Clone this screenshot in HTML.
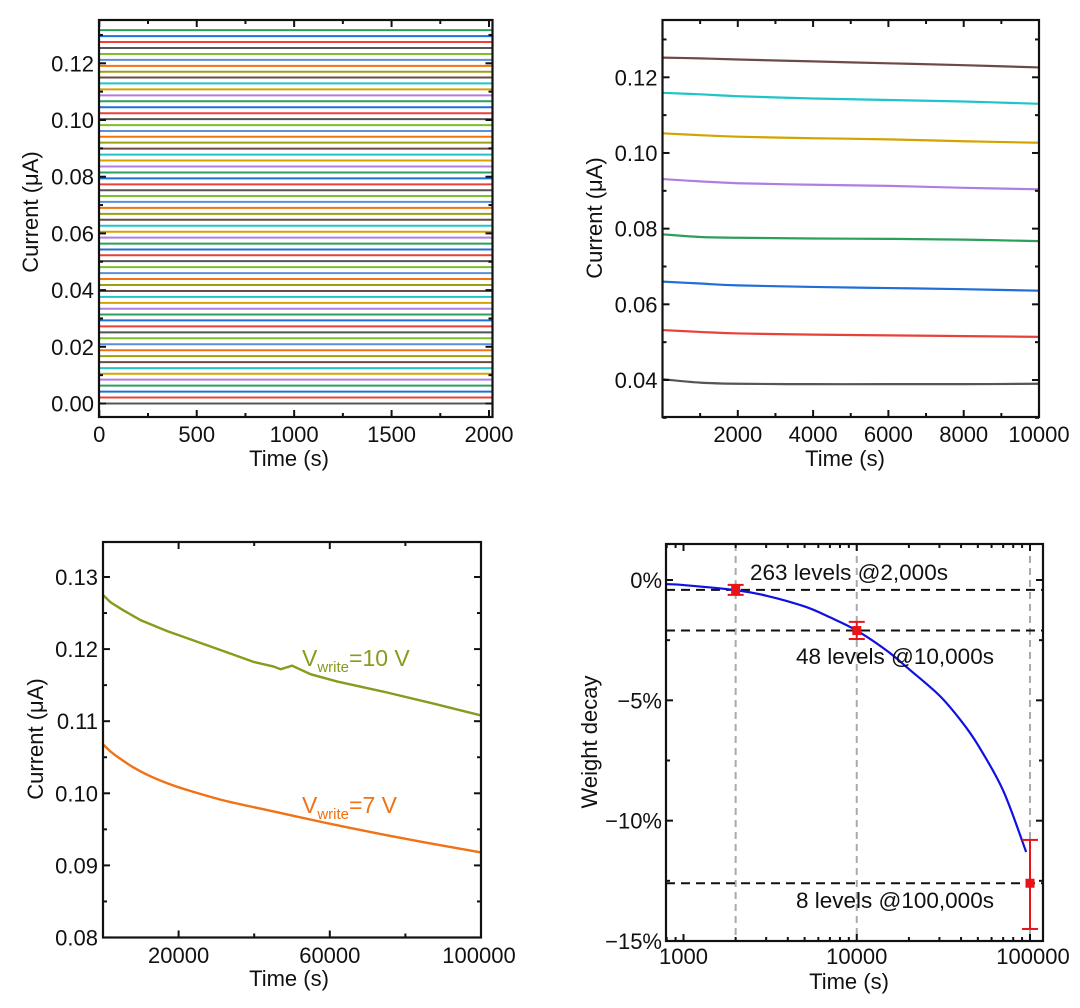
<!DOCTYPE html>
<html><head><meta charset="utf-8"><style>
html,body{margin:0;padding:0;background:#fff;}
svg{display:block;font-family:"Liberation Sans",Arial,sans-serif;}
</style></head><body>
<svg id="fig" width="1080" height="1008" viewBox="0 0 1080 1008"></svg>
<script>
// ---- Panel A data (top-left): 64 conductance levels ----
const levelsA = [0,.0021,.0042,.0063,.0084,.0105,.0125,.0146,.0167,.0188,.0209,.0230,.0251,.0272,.0293,.0314,.0334,.0355,.0376,.0397,.0418,.0439,.0460,.0481,.0502,.0523,.0543,.0564,.0585,.0606,.0627,.0648,.0669,.0690,.0711,.0732,.0752,.0773,.0794,.0815,.0836,.0857,.0878,.0899,.0920,.0941,.0961,.0982,.1003,.1024,.1045,.1066,.1087,.1108,.1129,.1150,.1170,.1191,.1212,.1233,.1254,.1275,.1296,.1317];
const xTicksA = [0,500,1000,1500,2000];
const yTicksA = [0,0.02,0.04,0.06,0.08,0.10,0.12];
const yTickLabelsA = ["0.00","0.02","0.04","0.06","0.08","0.10","0.12"];
const colorCycle = ["#555555","#e8413a","#1f6fd6","#2e9e5c","#b07ee0","#d4a300","#20c4c8","#6e4a46","#98a012","#f07410","#5c8fd4","#7cbf2c"];

// ---- Panel B data (top-right) ----
const timesB = [0,1000,2000,4000,6000,8000,10000];
const seriesB = [
 [.0402,.0393,.0390,.0389,.0389,.0389,.0390],
 [.0532,.0527,.0523,.0520,.0518,.0516,.0514],
 [.0660,.0655,.0650,.0646,.0643,.0640,.0636],
 [.0785,.0778,.0776,.0774,.0773,.0771,.0767],
 [.0931,.0925,.0920,.0916,.0913,.0908,.0904],
 [.1052,.1047,.1043,.1039,.1036,.1031,.1027],
 [.1159,.1155,.1150,.1144,.1140,.1136,.1130],
 [.1252,.1250,.1247,.1242,.1237,.1232,.1226]];
const colorsB = ["#555555","#e8413a","#1f6fd6","#2e9e5c","#b07ee0","#d4a300","#20c4c8","#6e4a46"];
const xTicksB = [2000,4000,6000,8000,10000];
const yTicksB = [0.04,0.06,0.08,0.10,0.12];
const yTickLabelsB = ["0.04","0.06","0.08","0.10","0.12"];

// ---- Panel C data (bottom-left) ----
const timesC10 = [0,2000,5000,10000,17000,25000,32000,40000,45000,47000,50000,55000,62000,75000,87000,100000];
const values10 = [.1275,.1265,.1255,.1240,.1225,.1210,.1197,.1182,.1176,.1172,.1177,.1165,.1155,.1140,.1125,.1108];
const timesC7 = [0,2000,4000,8000,12000,17000,22000,32000,45000,58000,72000,85000,100000];
const values7 = [.1068,.1058,.1050,.1036,.1025,.1014,.1005,.0990,.0975,.0960,.0945,.0932,.0918];
const xTicksC = [20000,60000,100000];
const yTicksC = [0.08,0.09,0.10,0.11,0.12,0.13];
const yTickLabelsC = ["0.08","0.09","0.10","0.11","0.12","0.13"];

// ---- Panel D data (bottom-right) ----
const fitTimes = [793,1000,2000,3000,5000,7000,10000,15000,20000,30000,40000,50000,70000,95000];
const fitValues = [-0.17,-0.21,-0.42,-0.65,-1.1,-1.55,-2.1,-2.95,-3.7,-4.8,-5.85,-6.85,-8.75,-11.3];
const ptTimes = [2000,10000,100000];
const ptValues = [-0.41,-2.1,-12.6];
const ptErrLow = [-0.62,-2.45,-14.5];
const ptErrHigh = [-0.2,-1.74,-10.8];
const levelLabels = ["263 levels @2,000s","48 levels @10,000s","8 levels @100,000s"];
const xTicksD = [1000,10000,100000];
const yTicksD = [0,-5,-10,-15];
const yTickLabelsD = ["0%","\u22125%","\u221210%","\u221215%"];

const NS="http://www.w3.org/2000/svg";
const svg=document.getElementById('fig');
const FS=22, TS=22;
function mk(tag,attrs,parent){const e=document.createElementNS(NS,tag);for(const k in attrs)e.setAttribute(k,attrs[k]);(parent||svg).appendChild(e);return e;}
function txt(s,x,y,anchor,size,parent,fill){const t=mk('text',{x:x,y:y,'text-anchor':anchor,'font-size':size,fill:fill||'#111'},parent);t.textContent=s;return t;}
function lin(d0,d1,r0,r1){return v=>r0+(v-d0)*(r1-r0)/(d1-d0);}
function pathFrom(xs,ys,sx,sy){return xs.map((t,i)=>(i?'L':'M')+sx(t).toFixed(2)+','+sy(ys[i]).toFixed(2)).join(' ');}
function smoothPath(xs,ys,sx,sy){const P=xs.map((t,i)=>[sx(t),sy(ys[i])]);let d='M'+P[0][0].toFixed(2)+','+P[0][1].toFixed(2);
for(let i=0;i<P.length-1;i++){const p0=P[Math.max(0,i-1)],p1=P[i],p2=P[i+1],p3=P[Math.min(P.length-1,i+2)];
const c1=[p1[0]+(p2[0]-p0[0])/6,p1[1]+(p2[1]-p0[1])/6],c2=[p2[0]-(p3[0]-p1[0])/6,p2[1]-(p3[1]-p1[1])/6];
d+=' C'+c1.map(v=>v.toFixed(2)).join(',')+' '+c2.map(v=>v.toFixed(2)).join(',')+' '+p2[0].toFixed(2)+','+p2[1].toFixed(2);}return d;}
function tickY(g,sy,vals,x0,x1,len){vals.forEach(v=>{const y=sy(v);mk('line',{x1:x0,x2:x0+len,y1:y,y2:y,stroke:'#111','stroke-width':2},g);mk('line',{x1:x1,x2:x1-len,y1:y,y2:y,stroke:'#111','stroke-width':2},g);});}
function tickX(g,sx,vals,y0,y1,len){vals.forEach(v=>{const x=sx(v);mk('line',{x1:x,x2:x,y1:y0,y2:y0-len,stroke:'#111','stroke-width':2},g);mk('line',{x1:x,x2:x,y1:y1,y2:y1+len,stroke:'#111','stroke-width':2},g);});}

// ===== Panel A =====
{
const L=99,R=492.5,T=20,B=417;
const sx=lin(0,2000,99.3,489), sy=lin(0,0.12,403.5,63.3);
const g=mk('g',{});


levelsA.forEach((v,i)=>{const l=mk('line',{x1:L+1,x2:R-1,y1:sy(v),y2:sy(v),stroke:colorCycle[i%12],'stroke-width':2},g);

});
tickY(g,sy,yTicksA,L,R,7); tickY(g,sy,[0.01,0.03,0.05,0.07,0.09,0.11,0.13].filter(v=>sy(v)>T),L,R,4);
tickX(g,sx,xTicksA,B,T,7); tickX(g,sx,[250,750,1250,1750],B,T,4);
const fr=mk('rect',{x:L,y:T,width:R-L,height:B-T,fill:'none',stroke:'#111','stroke-width':2.2});

yTicksA.forEach((v,i)=>txt(yTickLabelsA[i],L-5,sy(v)+8,'end',FS));
xTicksA.forEach(v=>txt(String(v),sx(v),442,'middle',FS));
const xt=txt('Time (s)',289,466,'middle',TS);
const yt=txt('Current (\u03bcA)',0,0,'middle',TS);yt.setAttribute('transform','translate(38,212) rotate(-90)');
}

// ===== Panel B =====
{
const L=662.5,R=1039,T=20,B=417;
const sx=lin(0,10000,662.5,1039), sy=lin(0.04,0.12,380,77.3);
const g=mk('g',{});


seriesB.forEach((s,i)=>{const p=mk('path',{d:smoothPath(timesB,s,sx,sy),fill:'none',stroke:colorsB[i],'stroke-width':2.2},g);

});
tickY(g,sy,yTicksB,L,R,7);tickY(g,sy,[0.03,0.05,0.07,0.09,0.11,0.13],L,R,4);
tickX(g,sx,xTicksB,B,T,7);tickX(g,sx,[1000,3000,5000,7000,9000],B,T,4);
const fr=mk('rect',{x:L,y:T,width:R-L,height:B-T,fill:'none',stroke:'#111','stroke-width':2.2});

yTicksB.forEach((v,i)=>txt(yTickLabelsB[i],L-5,sy(v)+8,'end',FS));
xTicksB.forEach(v=>txt(String(v),sx(v),442,'middle',FS));
const xt=txt('Time (s)',845,466,'middle',TS);
const yt=txt('Current (\u03bcA)',0,0,'middle',TS);yt.setAttribute('transform','translate(602,218) rotate(-90)');
}

// ===== Panel C =====
{
const L=103,R=481,T=542,B=937.5;
const sx=lin(0,100000,103,481), sy=lin(0.08,0.13,937.5,577);
const g=mk('g',{});


const p1=mk('path',{d:pathFrom(timesC10,values10,sx,sy),fill:'none',stroke:'#8a9a1c','stroke-width':2.4},g);

const p2=mk('path',{d:smoothPath(timesC7,values7,sx,sy),fill:'none',stroke:'#f07214','stroke-width':2.4},g);

tickY(g,sy,yTicksC,L,R,7);tickY(g,sy,[0.085,0.095,0.105,0.115,0.125],L,R,4);
tickX(g,sx,xTicksC,B,T,7);tickX(g,sx,[40000,80000],B,T,4);
const fr=mk('rect',{x:L,y:T,width:R-L,height:B-T,fill:'none',stroke:'#111','stroke-width':2.2});

yTicksC.forEach((v,i)=>txt(yTickLabelsC[i],L-5,sy(v)+8,'end',FS));
xTicksC.forEach(v=>txt(String(v),v===100000?sx(v)-2:sx(v),963,'middle',FS));
const xt=txt('Time (s)',289,986,'middle',TS);
const yt=txt('Current (\u03bcA)',0,0,'middle',TS);yt.setAttribute('transform','translate(43,739) rotate(-90)');
const a1=mk('text',{x:302,y:666,'font-size':23,fill:'#8a9a1c'});a1.innerHTML='V<tspan font-size="15" dy="6">write</tspan><tspan dy="-6">=10 V</tspan>';

const a2=mk('text',{x:302,y:813,'font-size':23,fill:'#f07214'});a2.innerHTML='V<tspan font-size="15" dy="6">write</tspan><tspan dy="-6">=7 V</tspan>';

}

// ===== Panel D =====
{
const L=666,R=1043,T=544,B=941;
const lx=lin(3,5,683.5,1030), sx=t=>lx(Math.log10(t));
const sy=lin(0,-15,580,941);
const g=mk('g',{});


ptTimes.forEach((t,i)=>{const l=mk('line',{x1:sx(t),x2:sx(t),y1:T,y2:B,stroke:'#aaa','stroke-width':2,'stroke-dasharray':'7,5'},g);
});
ptValues.forEach((v,i)=>{const l=mk('line',{x1:L,x2:R,y1:sy(v),y2:sy(v),stroke:'#111','stroke-width':2,'stroke-dasharray':'9,6'},g);
});
const fit=mk('path',{d:smoothPath(fitTimes,fitValues,sx,sy),fill:'none',stroke:'#1010e0','stroke-width':2.2},g);

ptTimes.forEach((t,i)=>{const x=sx(t);const eg=mk('g',{},g);

mk('line',{x1:x,x2:x,y1:sy(ptErrLow[i]),y2:sy(ptErrHigh[i]),stroke:'#e8141a','stroke-width':2},eg);
[ptErrLow[i],ptErrHigh[i]].forEach(e=>mk('line',{x1:x-8,x2:x+8,y1:sy(e),y2:sy(e),stroke:'#e8141a','stroke-width':2},eg));
mk('rect',{x:x-4.5,y:sy(ptValues[i])-4.5,width:9,height:9,fill:'#e8141a'},eg);});
tickY(g,sy,yTicksD,L,R,7);tickY(g,sy,[-2.5,-7.5,-12.5],L,R,4);
tickX(g,sx,xTicksD,B,T,7);
const minors=[800,900];[1000,10000].forEach(d=>{for(let k=2;k<=9;k++)minors.push(d*k);});
tickX(g,sx,minors,B,T,4);
const fr=mk('rect',{x:L,y:T,width:R-L,height:B-T,fill:'none',stroke:'#111','stroke-width':2.2});

yTicksD.forEach((v,i)=>txt(yTickLabelsD[i],L-4,sy(v)+8,'end',FS));
xTicksD.forEach(v=>txt(String(v),sx(v)+(v===100000?3:0),964,'middle',FS));
const lp=[[750,580],[796,664],[796,908]];
levelLabels.forEach((s,i)=>{const t=txt(s,lp[i][0],lp[i][1],'start',22.5);});
const xt=txt('Time (s)',849,989,'middle',TS);
const yt=txt('Weight decay',0,0,'middle',TS);yt.setAttribute('transform','translate(597,742) rotate(-90)');
}
</script>
</body></html>
